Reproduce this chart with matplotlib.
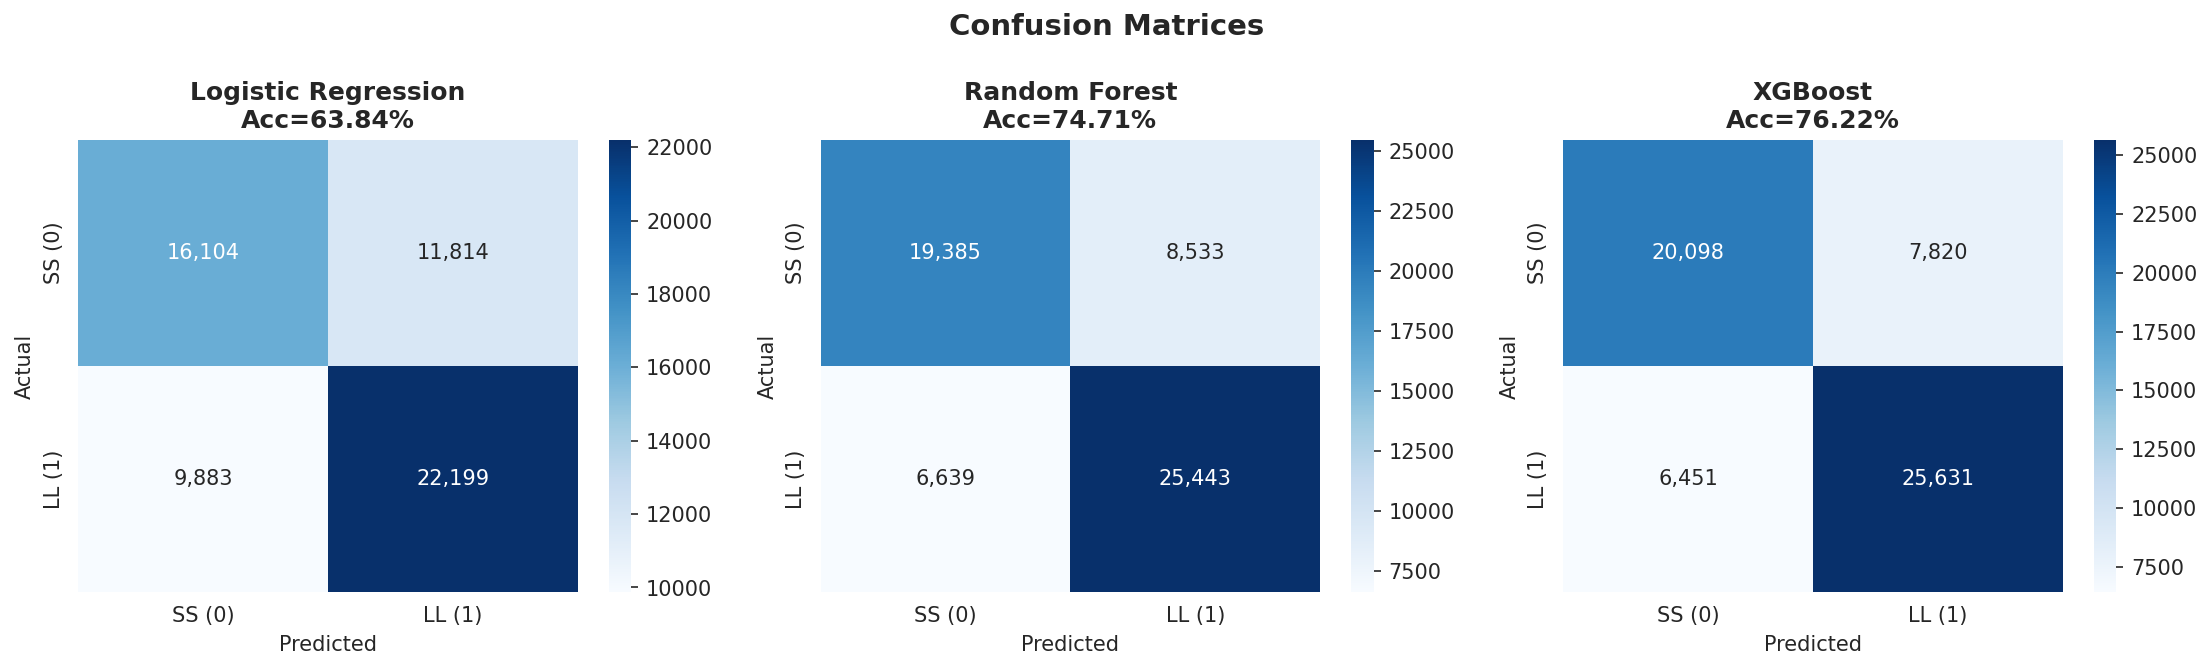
import numpy as np
import matplotlib
matplotlib.use("Agg")
import matplotlib.pyplot as plt
import seaborn as sns

sns.set_style("white")
plt.rcParams['font.family'] = ['DejaVu Sans']

models = ["Logistic Regression", "Random Forest", "XGBoost"]
accuracies = [63.84, 74.71, 76.22]
labels = ["SS (0)", "LL (1)"]
cm_lr = [[16104, 11814], [9883, 22199]]
cm_rf = [[19385, 8533], [6639, 25443]]
cm_xgb = [[20098, 7820], [6451, 25631]]
matrices = [cm_lr, cm_rf, cm_xgb]

fig, axes = plt.subplots(1, 3, figsize=(14.753, 4.447), dpi=150)
fig.subplots_adjust(left=0.0353, right=0.9885, top=0.790, bottom=0.1128, wspace=0.189)
for ax, name, acc, cm in zip(axes, models, accuracies, matrices):
    sns.heatmap(np.array(cm), annot=True, fmt=",", cmap="Blues", ax=ax,
                xticklabels=labels, yticklabels=labels)
    ax.set_title(f"{name}\nAcc={acc:.2f}%", fontweight="bold", fontsize=12)
    ax.set_xlabel("Predicted")
    ax.set_ylabel("Actual")
fig.suptitle("Confusion Matrices", fontweight="bold", fontsize=14, y=0.98)
fig.savefig("out.png", dpi=150)
